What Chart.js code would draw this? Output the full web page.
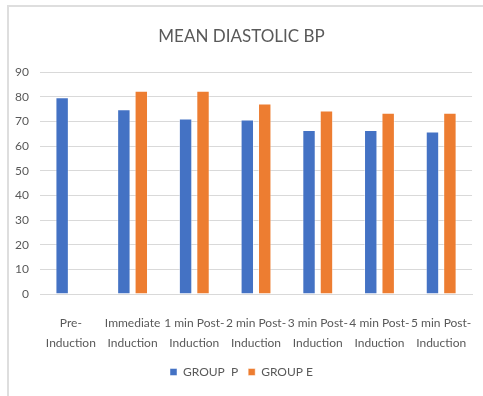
<!DOCTYPE html>
<html>
  <head>
    <style>
      body { margin: 0; background: white; }
      #frame {
        position: absolute;
        left: 7px;
        top: 5px;
        width: 476px;
        height: 391px;
        border-top: 2px solid #dedede;
        border-left: 2px solid #dedede;
        box-sizing: border-box;
      }
      #chart-container { position: absolute; left: 0; top: 0; width: 483px; height: 396px; }
    </style>
  </head>
  <body>
    <div id="frame"></div>
    <div id="chart-container">
      <canvas id="chart" width="483" height="396"></canvas>
    </div>

    <script src="https://cdn.jsdelivr.net/npm/chart.js"></script>
    <script>
      const categories = [
        ["Pre-", "Induction"],
        ["Immediate", "Induction"],
        ["1 min Post-", "Induction"],
        ["2 min Post-", "Induction"],
        ["3 min Post-", "Induction"],
        ["4 min Post-", "Induction"],
        ["5 min Post-", "Induction"]
      ];
      const groupP = [79.8, 74.9, 71.1, 70.7, 66.5, 66.5, 65.9];
      const groupE = [null, 82.4, 82.4, 77.2, 74.4, 73.5, 73.5];
      const seriesNames = ["GROUP  P", "GROUP E"];
      const yTicks = { min: 0, max: 90, step: 10 };

      const fontFamily = "Lato, sans-serif";
      const textColor = "#595959";
      const gridColor = "#d9d9d9";

      new Chart(document.getElementById("chart"), {
        type: "bar",
        data: {
          labels: categories,
          datasets: [
            {
              label: seriesNames[0],
              data: groupP,
              backgroundColor: "#4472C4",
              borderColor: "rgba(255,255,255,0.45)",
              borderWidth: 1
            },
            {
              label: seriesNames[1],
              data: groupE,
              backgroundColor: "#ED7D31",
              borderColor: "rgba(255,255,255,0.45)",
              borderWidth: 1
            }
          ]
        },
        options: {
          responsive: false,
          animation: false,
          categoryPercentage: 0.565,
          barPercentage: 0.77,
          layout: { padding: { left: 10, right: 10, top: 0, bottom: 8 } },
          plugins: {
            title: {
              display: true,
              text: "MEAN DIASTOLIC BP",
              color: textColor,
              font: { family: fontFamily, size: 17, weight: "normal", lineHeight: 1.2 },
              padding: { top: 26, bottom: 25.6 }
            },
            legend: {
              position: "bottom",
              labels: {
                boxWidth: 7,
                boxHeight: 7,
                padding: 10,
                color: textColor,
                font: { family: fontFamily, size: 12 }
              }
            },
            tooltip: { enabled: false }
          },
          scales: {
            x: {
              grid: { display: false },
              border: { display: true, color: gridColor, width: 1 },
              ticks: {
                color: textColor,
                padding: 11,
                maxRotation: 0,
                autoSkip: false,
                font: { family: fontFamily, size: 12, lineHeight: 1.67 }
              },
              afterFit: function (scale) { scale.height = 62; }
            },
            y: {
              min: yTicks.min,
              max: yTicks.max,
              grid: { color: gridColor, drawTicks: false },
              border: { display: false },
              ticks: {
                stepSize: yTicks.step,
                color: textColor,
                padding: 11,
                font: { family: fontFamily, size: 12 }
              },
              afterFit: function (scale) { scale.width = 30; }
            }
          }
        }
      });
    </script>
  </body>
</html>
